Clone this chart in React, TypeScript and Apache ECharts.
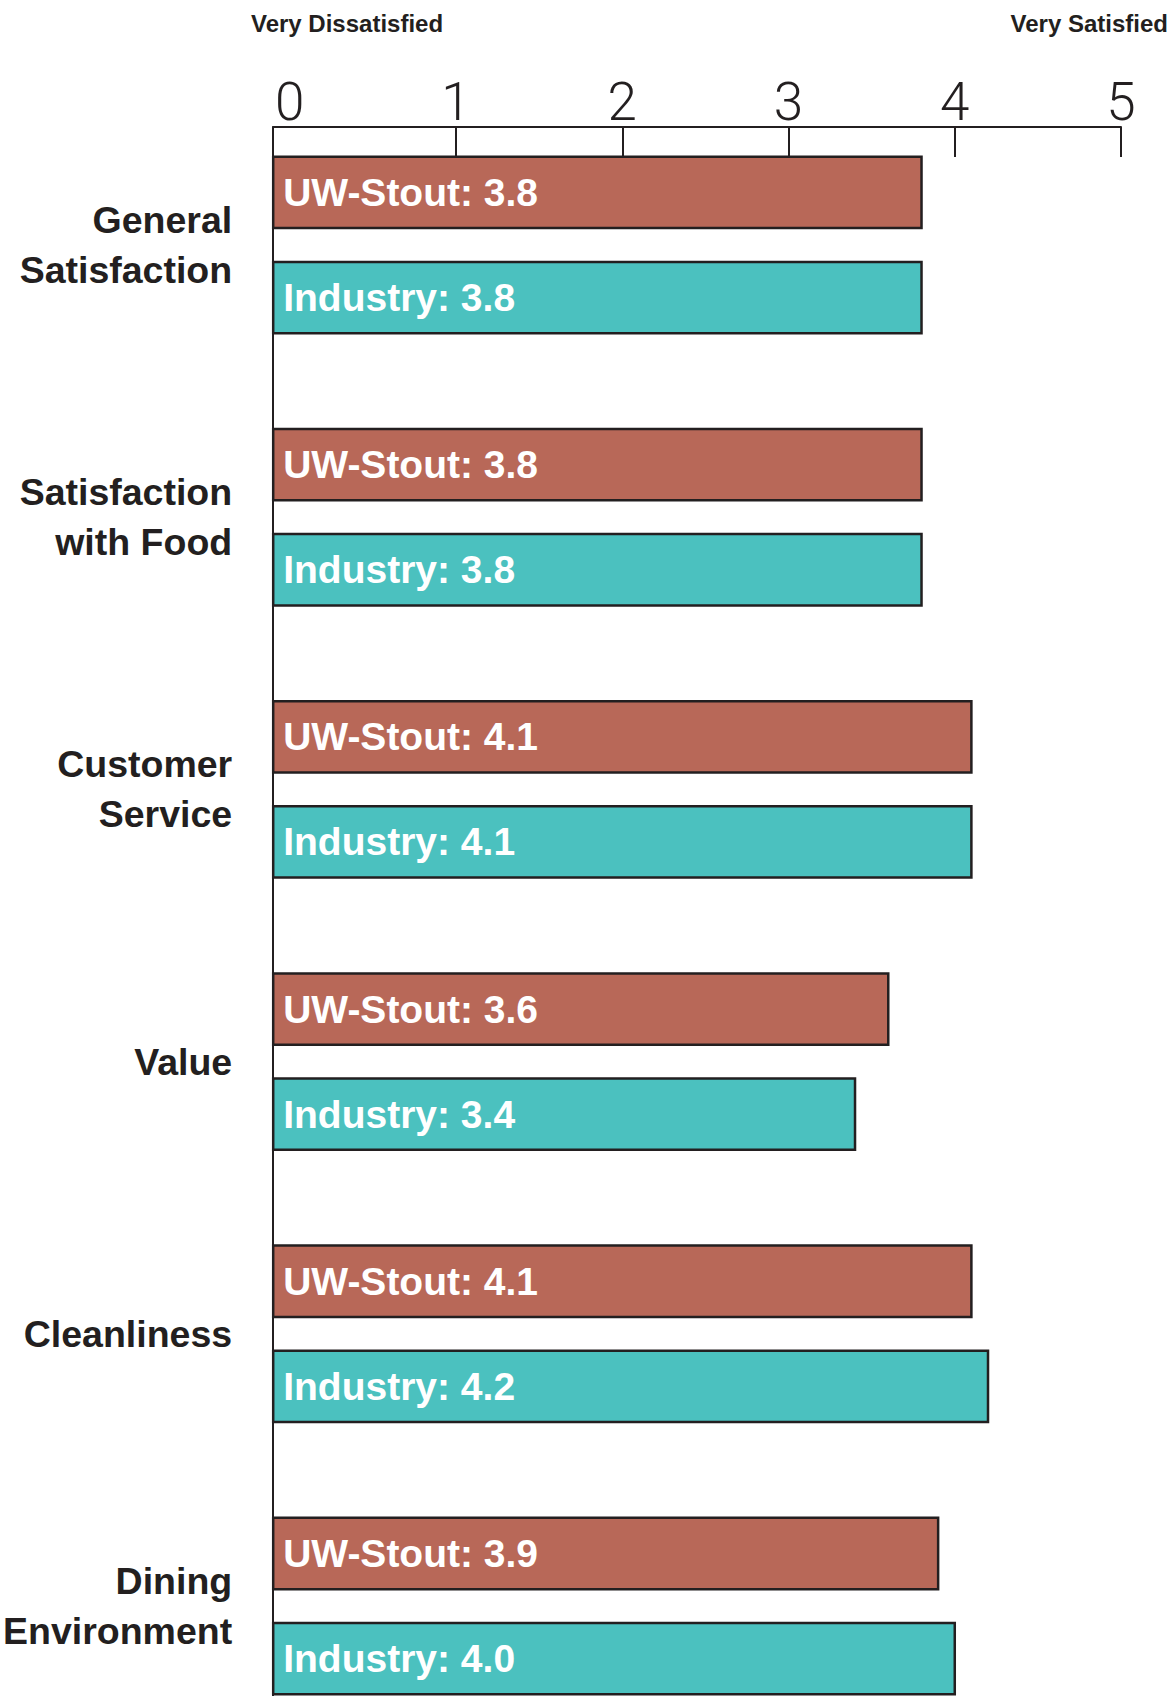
import React, { useEffect, useRef } from 'react';
import * as echarts from 'echarts';

// ---- Data ----
const categories = [
  'General\nSatisfaction',
  'Satisfaction\nwith Food',
  'Customer\nService',
  'Value',
  'Cleanliness',
  'Dining\nEnvironment',
];
const uwStoutValues = [3.8, 3.8, 4.1, 3.6, 4.1, 3.9];
const industryValues = [3.8, 3.8, 4.1, 3.4, 4.2, 4.0];
const seriesNames = ['UW-Stout', 'Industry'];
const tickValues = [1, 2, 3, 4, 5];
const tickLabelValues = [0, 1, 2, 3, 4, 5];
const scaleEndLabels = ['Very Dissatisfied', 'Very Satisfied'];

// ---- Style / layout ----
const X_MIN = -0.1;
const X_MAX = 5;
const Y_MIN = -0.4335;
const Y_MAX = 5.3306;
const BAR_HEIGHT_UNITS = 0.262;
const BAR_OFFSET_UNITS = 0.193;
const INK = '#231f20';
const COLORS = ['#b86858', '#4bc1bf'];
const BOLD_FONT = '"Liberation Sans", Arial, sans-serif';

function makeSeries(name: string, values: number[], color: string, sign: number) {
  return {
    type: 'custom',
    name,
    data: values.map((v, i) => [v, i]),
    encode: { x: 0, y: 1 },
    clip: false,
    renderItem: (params: any, api: any) => {
      const v = api.value(0);
      const c = api.value(1);
      const start = api.coord([X_MIN, c]);
      const end = api.coord([v, c]);
      const unit = Math.abs(api.coord([0, c + 1])[1] - api.coord([0, c])[1]);
      const h = BAR_HEIGHT_UNITS * unit;
      const cy = end[1] + sign * BAR_OFFSET_UNITS * unit;
      return {
        type: 'group',
        children: [
          {
            type: 'rect',
            shape: { x: start[0], y: cy - h / 2, width: end[0] - start[0], height: h },
            style: { fill: color, stroke: INK, lineWidth: 2.5 },
          },
          {
            type: 'text',
            x: start[0] + 10,
            y: cy,
            style: {
              text: `${name}: ${v.toFixed(1)}`,
              fill: '#ffffff',
              fontSize: 39,
              fontWeight: 'bold',
              fontFamily: BOLD_FONT,
              align: 'left',
              verticalAlign: 'middle',
            },
          },
        ],
      };
    },
  };
}

export default function App() {
  const ref = useRef<HTMLDivElement>(null);
  useEffect(() => {
    if (!ref.current) return;
    const chart = echarts.init(ref.current, undefined, { renderer: 'svg' });
    const option: any = {
      animation: false,
      backgroundColor: '#ffffff',
      grid: { left: 268, right: 54, top: 127, bottom: 0, containLabel: false },
      xAxis: {
        type: 'value',
        position: 'top',
        min: X_MIN,
        max: X_MAX,
        axisLine: { show: true, onZero: false, lineStyle: { color: INK, width: 2 } },
        axisTick: {
          show: true,
          inside: true,
          length: 30,
          customValues: tickValues,
          lineStyle: { color: INK, width: 2 },
        },
        axisLabel: {
          show: true,
          customValues: tickLabelValues,
          margin: -1,
          fontSize: 53,
          fontFamily: 'Roboto, "Liberation Sans", sans-serif',
          fontWeight: 300,
          color: INK,
          formatter: (v: number) => String(Math.round(v)),
        },
        splitLine: { show: false },
      },
      yAxis: {
        type: 'value',
        inverse: true,
        min: Y_MIN,
        max: Y_MAX,
        axisLine: { show: true, onZero: false, lineStyle: { color: INK, width: 2 } },
        axisTick: { show: false },
        axisLabel: {
          show: true,
          customValues: categories.map((_, i) => i),
          formatter: (v: number) => categories[Math.round(v)] ?? '',
          fontSize: 37.5,
          fontWeight: 'bold',
          fontFamily: BOLD_FONT,
          color: INK,
          lineHeight: 50,
          margin: 41,
          align: 'right',
        },
        splitLine: { show: false },
      },
      graphic: [
        {
          type: 'text',
          x: 347,
          y: 23,
          style: {
            text: scaleEndLabels[0],
            fontSize: 24,
            fontWeight: 'bold',
            fontFamily: BOLD_FONT,
            fill: INK,
            align: 'center',
            verticalAlign: 'middle',
          },
        },
        {
          type: 'text',
          x: 1168,
          y: 23,
          style: {
            text: scaleEndLabels[1],
            fontSize: 24,
            fontWeight: 'bold',
            fontFamily: BOLD_FONT,
            fill: INK,
            align: 'right',
            verticalAlign: 'middle',
          },
        },
      ],
      series: [
        makeSeries(seriesNames[0], uwStoutValues, COLORS[0], -1),
        makeSeries(seriesNames[1], industryValues, COLORS[1], 1),
      ],
    };
    chart.setOption(option);
    return () => chart.dispose();
  }, []);
  return (
    <div
      ref={ref}
      style={{ position: 'absolute', left: 0, top: 0, width: 1175, height: 1696 }}
    />
  );
}
